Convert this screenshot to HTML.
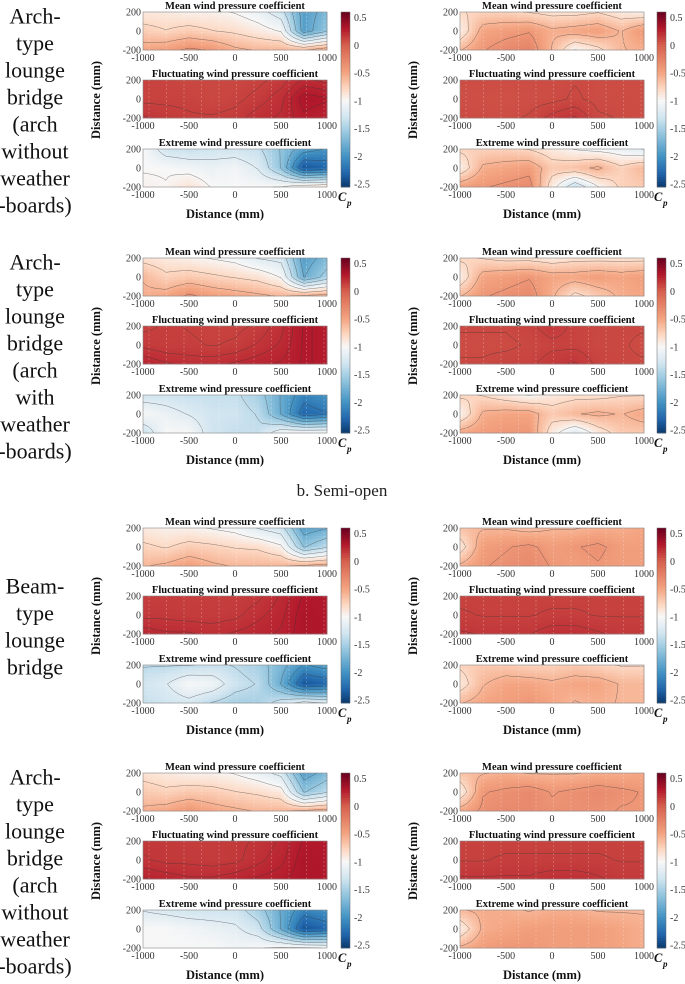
<!DOCTYPE html>
<html><head><meta charset="utf-8"><style>
html,body{margin:0;padding:0;background:#fff;width:685px;height:984px;overflow:hidden}
svg{display:block}
svg text{font-family:"Liberation Serif","DejaVu Serif",serif}
</style></head><body>
<svg id="fig" width="685" height="984" viewBox="0 0 685 984" xmlns="http://www.w3.org/2000/svg">
<g id="labels"></g>
<text x="342" y="496" text-anchor="middle" font-size="17" fill="#222">b.   Semi-open</text>
<g id="plots"></g>
</svg>
<script>
const xCats = [-1000,-750,-500,-250,0,250,500,750,1000];
const yCats = [200,0,-200];
const cbTicks = [0.5,0,-0.5,-1,-1.5,-2,-2.5];
const xTicks = [-1000,-500,0,500,1000];
const yTicks = [200,0,-200];
const titles = ["Mean wind pressure coefficient","Fluctuating wind pressure coefficient","Extreme wind pressure coefficient"];
const rowLabels = [
 ["Arch-","type","lounge","bridge","(arch","without","weather","-boards)"],
 ["Arch-","type","lounge","bridge","(arch","with","weather","-boards)"],
 ["Beam-","type","lounge","bridge"],
 ["Arch-","type","lounge","bridge","(arch","without","weather","-boards)"]
];
const g1LMean = [[-0.9,-0.9,-0.95,-0.95,-1.0,-1.1,-1.3,-1.9,-1.7],[-0.72,-0.78,-0.72,-0.78,-0.82,-0.9,-1.0,-1.9,-1.6],[-0.5,-0.45,-0.35,-0.4,-0.55,-0.6,-0.6,-0.6,-0.45]];
const g1LFluc = [[0.12,0.12,0.1,0.1,0.1,0.12,0.15,0.22,0.2],[0.12,0.12,0.12,0.1,0.12,0.15,0.2,0.32,0.3],[0.18,0.16,0.14,0.14,0.15,0.2,0.22,0.28,0.25]];
const g1LExt = [[-1.0,-1.3,-1.35,-1.3,-1.3,-1.35,-1.6,-1.9,-2.0],[-1.0,-1.0,-1.05,-1.1,-1.05,-1.2,-1.6,-2.4,-2.3],[-0.95,-0.98,-0.85,-1.0,-1.0,-1.0,-0.98,-0.85,-0.8]];
const g1RMean = [[-0.8,-0.75,-0.75,-0.8,-0.85,-0.85,-0.8,-0.9,-0.95],[-0.95,-0.5,-0.45,-0.4,-0.55,-0.5,-0.45,-0.6,-0.4],[-0.6,-0.4,-0.3,-0.25,-0.6,-1.0,-0.85,-0.6,-0.55]];
const g1RFluc = [[0.08,0.08,0.08,0.08,0.08,0.09,0.08,0.08,0.08],[0.07,0.07,0.06,0.07,0.08,0.1,0.08,0.08,0.08],[0.09,0.08,0.08,0.1,0.15,0.18,0.1,0.09,0.08]];
const g1RExt = [[-0.75,-0.75,-0.75,-0.8,-0.9,-1.0,-1.05,-1.1,-1.2],[-0.95,-0.55,-0.5,-0.45,-0.7,-0.65,-0.55,-0.75,-0.6],[-0.45,-0.4,-0.35,-0.3,-0.9,-1.35,-1.0,-0.75,-0.7]];
const g2LMean = [[-0.85,-0.9,-0.95,-1.0,-1.05,-1.2,-1.25,-1.9,-1.7],[-0.6,-0.75,-0.7,-0.75,-0.8,-0.85,-1.0,-1.8,-1.5],[-0.55,-0.5,-0.35,-0.45,-0.5,-0.55,-0.6,-0.55,-0.5]];
const g2LFluc = [[0.12,0.14,0.13,0.12,0.12,0.14,0.2,0.3,0.28],[0.16,0.14,0.14,0.13,0.14,0.18,0.22,0.3,0.28],[0.25,0.22,0.2,0.2,0.22,0.24,0.26,0.3,0.28]];
const g2LExt = [[-1.3,-1.3,-1.35,-1.35,-1.35,-1.5,-1.8,-2.1,-2.0],[-1.0,-1.1,-1.2,-1.3,-1.3,-1.4,-1.8,-2.3,-2.2],[-1.35,-1.0,-1.0,-1.3,-1.35,-1.35,-1.05,-1.0,-1.0]];
const g2RMean = [[-0.75,-0.8,-0.85,-0.85,-0.9,-0.85,-0.85,-0.85,-0.85],[-0.95,-0.5,-0.45,-0.4,-0.5,-0.5,-0.45,-0.5,-0.45],[-0.6,-0.4,-0.35,-0.3,-0.55,-0.85,-0.7,-0.55,-0.5]];
const g2RFluc = [[0.1,0.1,0.1,0.12,0.16,0.12,0.1,0.1,0.1],[0.08,0.08,0.08,0.1,0.12,0.12,0.1,0.1,0.08],[0.1,0.1,0.12,0.12,0.16,0.18,0.12,0.1,0.1]];
const g2RExt = [[-0.75,-0.8,-0.9,-1.0,-0.9,-0.85,-0.85,-0.8,-0.8],[-0.98,-0.55,-0.5,-0.5,-0.7,-0.6,-0.55,-0.6,-0.5],[-0.5,-0.45,-0.4,-0.4,-0.9,-1.2,-0.9,-0.7,-0.7]];
const g3LMean = [[-0.9,-0.95,-0.95,-1.0,-1.05,-1.2,-1.3,-1.9,-1.8],[-0.75,-0.8,-0.72,-0.75,-0.8,-0.82,-0.95,-1.6,-1.4],[-0.6,-0.55,-0.45,-0.55,-0.6,-0.6,-0.6,-0.55,-0.5]];
const g3LFluc = [[0.14,0.14,0.14,0.14,0.14,0.16,0.22,0.3,0.3],[0.16,0.16,0.15,0.15,0.16,0.2,0.24,0.32,0.3],[0.24,0.22,0.22,0.2,0.22,0.24,0.26,0.32,0.3]];
const g3LExt = [[-1.4,-1.4,-1.4,-1.35,-1.4,-1.5,-1.7,-2.0,-1.9],[-1.3,-1.2,-1.0,-1.05,-1.3,-1.4,-1.8,-2.4,-2.3],[-1.35,-1.3,-1.25,-1.4,-1.5,-1.5,-1.3,-1.1,-1.2]];
const g3RMean = [[-0.65,-0.6,-0.6,-0.65,-0.6,-0.6,-0.55,-0.55,-0.5],[-0.9,-0.45,-0.4,-0.35,-0.45,-0.4,-0.35,-0.45,-0.45],[-0.55,-0.4,-0.35,-0.3,-0.4,-0.45,-0.4,-0.45,-0.45]];
const g3RFluc = [[0.12,0.12,0.12,0.12,0.12,0.12,0.12,0.12,0.12],[0.14,0.13,0.13,0.13,0.14,0.14,0.13,0.13,0.13],[0.18,0.17,0.17,0.17,0.2,0.2,0.18,0.16,0.16]];
const g3RExt = [[-0.75,-0.7,-0.7,-0.75,-0.75,-0.7,-0.75,-0.8,-0.8],[-0.9,-0.6,-0.5,-0.5,-0.55,-0.5,-0.5,-0.6,-0.6],[-0.6,-0.5,-0.45,-0.4,-0.5,-0.6,-0.55,-0.6,-0.6]];
const g4LMean = [[-0.85,-0.9,-0.95,-0.95,-1.0,-1.1,-1.25,-1.9,-1.7],[-0.7,-0.75,-0.7,-0.72,-0.78,-0.82,-0.9,-1.6,-1.4],[-0.55,-0.5,-0.4,-0.5,-0.55,-0.6,-0.6,-0.55,-0.5]];
const g4LFluc = [[0.16,0.16,0.15,0.15,0.16,0.18,0.22,0.3,0.3],[0.18,0.16,0.16,0.15,0.16,0.2,0.24,0.32,0.3],[0.26,0.24,0.22,0.22,0.24,0.26,0.28,0.32,0.3]];
const g4LExt = [[-1.2,-1.25,-1.3,-1.3,-1.3,-1.5,-1.8,-2.1,-2.0],[-1.0,-1.0,-1.05,-1.1,-1.15,-1.3,-1.8,-2.4,-2.3],[-1.0,-1.0,-1.0,-1.0,-1.05,-1.0,-0.95,-0.95,-1.0]];
const g4RMean = [[-0.65,-0.6,-0.55,-0.6,-0.6,-0.6,-0.55,-0.55,-0.5],[-0.95,-0.4,-0.35,-0.3,-0.4,-0.35,-0.3,-0.35,-0.4],[-0.5,-0.35,-0.3,-0.3,-0.35,-0.35,-0.35,-0.4,-0.4]];
const g4RFluc = [[0.12,0.12,0.12,0.12,0.12,0.12,0.12,0.12,0.12],[0.13,0.13,0.14,0.14,0.14,0.14,0.14,0.13,0.13],[0.18,0.18,0.18,0.18,0.2,0.2,0.18,0.16,0.16]];
const g4RExt = [[-0.6,-0.55,-0.55,-0.6,-0.55,-0.55,-0.6,-0.6,-0.6],[-0.95,-0.55,-0.5,-0.45,-0.45,-0.45,-0.45,-0.5,-0.55],[-0.55,-0.45,-0.4,-0.4,-0.45,-0.45,-0.45,-0.5,-0.55]];

const groups = [
 {L:[g1LMean,g1LFluc,g1LExt], R:[g1RMean,g1RFluc,g1RExt]},
 {L:[g2LMean,g2LFluc,g2LExt], R:[g2RMean,g2RFluc,g2RExt]},
 {L:[g3LMean,g3LFluc,g3LExt], R:[g3RMean,g3RFluc,g3RExt]},
 {L:[g4LMean,g4LFluc,g4LExt], R:[g4RMean,g4RFluc,g4RExt]}
];
const groupY = [0,246,516,761];
const cbMin = -2.55, cbMax = 0.6;

const NS = "http://www.w3.org/2000/svg";
const stops = [[0.6,[103,0,31]],[0.3,[178,24,43]],[0.0,[214,96,77]],[-0.5,[244,165,130]],[-0.8,[253,219,199]],[-1.0,[247,247,247]],[-1.3,[209,229,240]],[-1.6,[146,197,222]],[-2.0,[67,147,195]],[-2.3,[33,102,172]],[-2.6,[5,48,97]]];
function cmap(v){
  if(v>=stops[0][0]) return "rgb("+stops[0][1].join(",")+")";
  for(let i=0;i<stops.length-1;i++){
    const a=stops[i],b=stops[i+1];
    if(v<=a[0]&&v>=b[0]){const t=(a[0]-v)/(a[0]-b[0]);
      return "rgb("+a[1].map((c,k)=>Math.round(c+(b[1][k]-c)*t)).join(",")+")";}
  }
  return "rgb("+stops[stops.length-1][1].join(",")+")";
}
function mk(tag,attrs,parent){const e=document.createElementNS(NS,tag);for(const k in attrs)e.setAttribute(k,attrs[k]);parent.appendChild(e);return e;}
function txt(parent,x,y,s,opt){const e=mk("text",Object.assign({x:x,y:y,"font-size":10,fill:"#333"},opt||{}),parent);e.textContent=s;return e;}
function sample(grid,xv,yv){
  const fx=(xv-xCats[0])/(xCats[1]-xCats[0]);
  const fy=(yCats[0]-yv)/(yCats[0]-yCats[1]);
  const i=Math.max(0,Math.min(Math.floor(fx),xCats.length-2)),j=Math.max(0,Math.min(Math.floor(fy),yCats.length-2));
  const tx=fx-i,ty=fy-j;
  const a=grid[j][i],b=grid[j][i+1],c=grid[j+1][i],d=grid[j+1][i+1];
  return (a*(1-tx)+b*tx)*(1-ty)+(c*(1-tx)+d*tx)*ty;
}
const plots=document.getElementById("plots");
const labels=document.getElementById("labels");

groups.forEach((g,gi)=>{
  const oy=groupY[gi];
  const lines=rowLabels[gi];
  const lh=27, cy=oy+110;
  const lg=mk("g",{},labels);
  
  
  lines.forEach((s,li)=>{txt(lg,35,cy-(lines.length-1)*lh/2+li*lh+8,s,{"font-size":22,fill:"#111","text-anchor":"middle"});});
  [["left",143,341,"L"],["right",460,657,"R"]].forEach(([side,x0,cbx,key])=>{
    const W=184,H=38;
    const pg=mk("g",{},plots);
    
    
    const xs=v=>x0+(v-xCats[0])/(xCats[xCats.length-1]-xCats[0])*W;
    const subTop=[12,80,149];
    g[key].forEach((grid,si)=>{
      const top=oy+subTop[si];
      const ys=v=>top+(yCats[0]-v)/(yCats[0]-yCats[yCats.length-1])*H;
      const sg=mk("g",{},pg);
      
      
      const NX=60,NY=14;
      for(let a=0;a<NX;a++)for(let b=0;b<NY;b++){
        const xv=xCats[0]+(a+0.5)/NX*2000;
        const yv=200-(b+0.5)/NY*400;
        const x1=xs(xCats[0]+a/NX*2000),x2=xs(xCats[0]+(a+1)/NX*2000);
        const y1=ys(200-b/NY*400),y2=ys(200-(b+1)/NY*400);
        const r=mk("rect",{x:x1.toFixed(2),y:y1.toFixed(2),width:(x2-x1+0.4).toFixed(2),height:(y2-y1+0.4).toFixed(2),fill:cmap(sample(grid,xv,yv))},sg);
        
        
      }
      const step = si===1?0.04:0.2;
      const CX=48,CY=12;
      const val=(a,b)=>sample(grid,xCats[0]+a/CX*2000,200-b/CY*400);
      const px=a=>xs(xCats[0]+a/CX*2000), py=b=>ys(200-b/CY*400);
      let d="";
      let vmin=Infinity,vmax=-Infinity;
      grid.forEach(r=>r.forEach(v=>{vmin=Math.min(vmin,v);vmax=Math.max(vmax,v);}));
      for(let L=Math.ceil(vmin/step)*step+0.013; L<vmax; L+=step){
        for(let a=0;a<CX;a++)for(let b=0;b<CY;b++){
          const c=[[a,b],[a+1,b],[a+1,b+1],[a,b+1]].map(p=>[p[0],p[1],val(p[0],p[1])]);
          const pts=[];
          for(let e=0;e<4;e++){const p=c[e],q=c[(e+1)%4];
            if((p[2]-L)*(q[2]-L)<0){const t=(L-p[2])/(q[2]-p[2]);pts.push([px(p[0]+(q[0]-p[0])*t),py(p[1]+(q[1]-p[1])*t)]);}}
          if(pts.length>=2){d+="M"+pts[0][0].toFixed(1)+" "+pts[0][1].toFixed(1)+"L"+pts[1][0].toFixed(1)+" "+pts[1][1].toFixed(1);}
          if(pts.length===4){d+="M"+pts[2][0].toFixed(1)+" "+pts[2][1].toFixed(1)+"L"+pts[3][0].toFixed(1)+" "+pts[3][1].toFixed(1);}
        }
      }
      const cl=mk("path",{d:d,fill:"none",stroke:"#333","stroke-width":0.5,"stroke-opacity":0.6},sg);
      
      
      for(let k=0;k<11;k++){const xx=x0+6+k*17.5;mk("line",{x1:xx,x2:xx,y1:top,y2:top+H,stroke:"#fff","stroke-opacity":0.35,"stroke-dasharray":"2,2","stroke-width":0.6},sg);}
      mk("rect",{x:x0,y:top,width:W,height:H,fill:"none",stroke:"#888","stroke-width":0.6},sg);
      const t=txt(sg,x0+W/2,top-3,titles[si],{"font-size":10.5,"font-weight":"bold",fill:"#111","text-anchor":"middle"});
      
      yTicks.forEach(v=>{txt(sg,x0-2,ys(v)+3.5,String(v),{"text-anchor":"end","font-size":10});});
      xTicks.forEach(v=>{txt(sg,xs(v),top+H+11,String(v),{"text-anchor":"middle","font-size":10});});
    });
    const yl=txt(pg,0,0,"Distance (mm)",{"font-size":12.5,"font-weight":"bold",fill:"#111","text-anchor":"middle",transform:"translate("+(x0-43)+","+(oy+100)+") rotate(-90)"});
    
    
    const xl=txt(pg,x0+W/2-10,oy+218,"Distance (mm)",{"font-size":12.5,"font-weight":"bold",fill:"#111","text-anchor":"middle"});
    
    
    const cb=mk("g",{},pg);
    
    
    const cT=oy+12,cH=175;
    const cy2=v=>cT+(cbMax-v)/(cbMax-cbMin)*cH;
    for(let k=0;k<70;k++){const v1=cbMax-k/70*(cbMax-cbMin);mk("rect",{x:cbx,y:(cT+k/70*cH).toFixed(2),width:9,height:(cH/70+0.4).toFixed(2),fill:cmap(v1-(cbMax-cbMin)/140)},cb);}
    mk("rect",{x:cbx,y:cT,width:9,height:cH,fill:"none",stroke:"#666","stroke-width":0.5},cb);
    cbTicks.forEach(v=>{txt(cb,cbx+13,cy2(v)+3.5,String(v),{"font-size":10});});
    txt(cb,cbx-3,oy+201,"C",{"font-size":12.5,"font-weight":"bold","font-style":"italic",fill:"#111"});
    txt(cb,cbx+6,oy+206,"p",{"font-size":9,"font-weight":"bold","font-style":"italic",fill:"#111"});
  });
});
</script>
</body></html>
